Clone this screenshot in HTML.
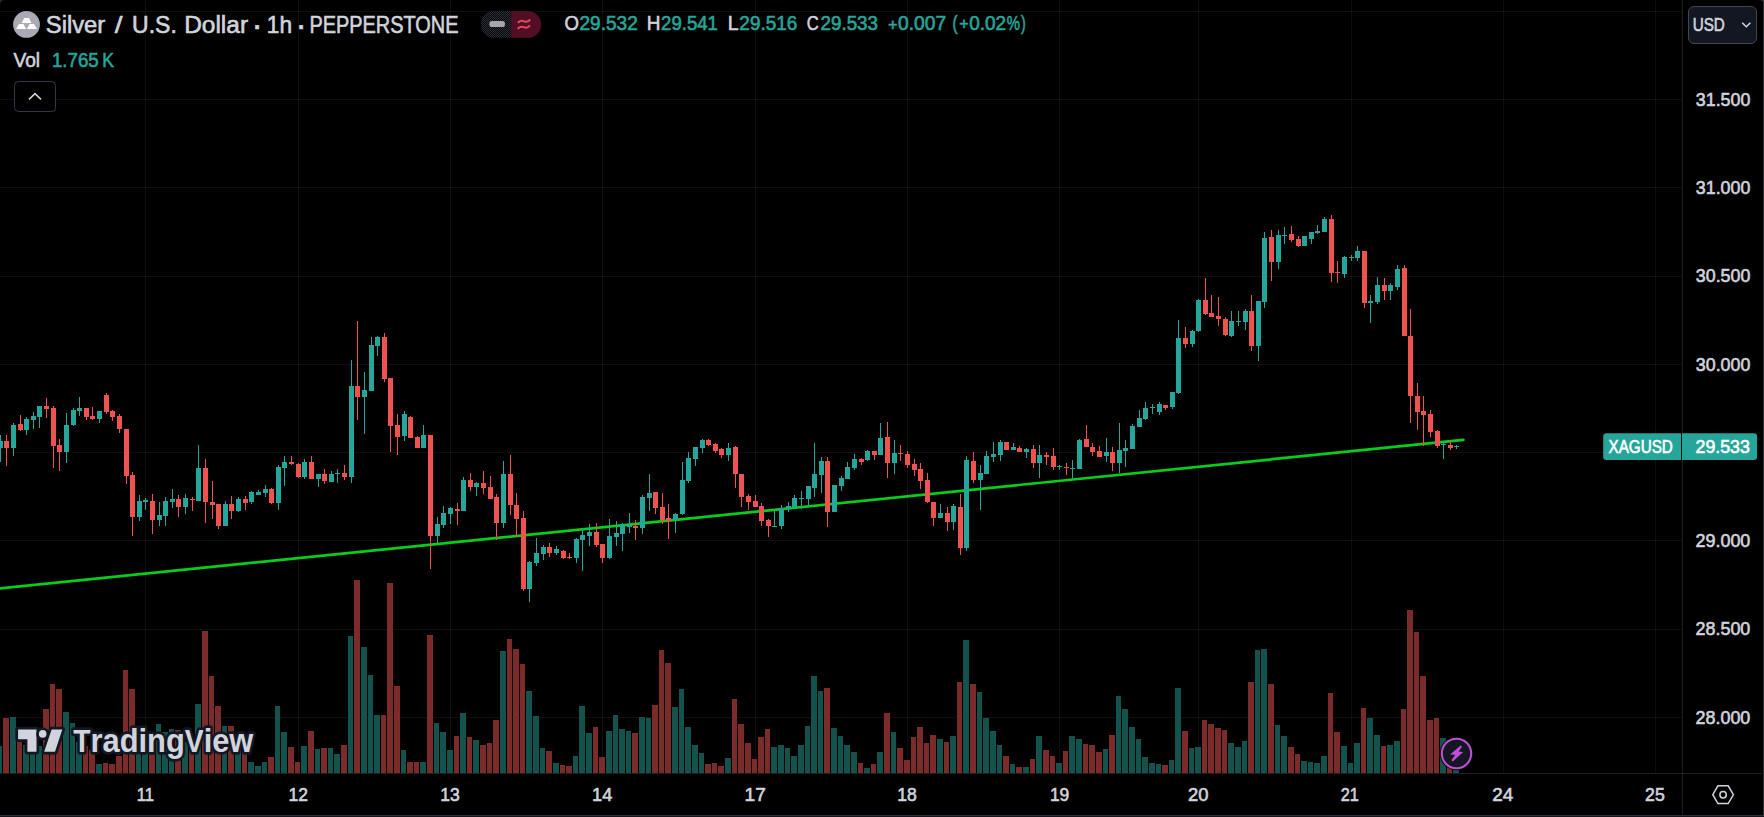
<!DOCTYPE html>
<html><head><meta charset="utf-8"><title>XAGUSD chart</title>
<style>html,body{margin:0;padding:0;background:#000;}body{width:1764px;height:817px;overflow:hidden;position:relative;font-family:"Liberation Sans", Arial, sans-serif;}svg text{font-family:"Liberation Sans", Arial, sans-serif;}</style>
</head><body>
<svg width="1764" height="817" viewBox="0 0 1764 817" style="position:absolute;left:0;top:0;display:block">
<rect width="1764" height="817" fill="#000"/>
<g shape-rendering="crispEdges" fill="#f0f3fa" fill-opacity="0.06">
<rect x="145" y="0" width="1" height="773"/>
<rect x="298" y="0" width="1" height="773"/>
<rect x="450" y="0" width="1" height="773"/>
<rect x="602" y="0" width="1" height="773"/>
<rect x="755" y="0" width="1" height="773"/>
<rect x="907" y="0" width="1" height="773"/>
<rect x="1059" y="0" width="1" height="773"/>
<rect x="1198" y="0" width="1" height="773"/>
<rect x="1351" y="0" width="1" height="773"/>
<rect x="1503" y="0" width="1" height="773"/>
<rect x="1655" y="0" width="1" height="773"/>
<rect x="0" y="11" width="1682" height="1"/>
<rect x="0" y="99" width="1682" height="1"/>
<rect x="0" y="187" width="1682" height="1"/>
<rect x="0" y="276" width="1682" height="1"/>
<rect x="0" y="364" width="1682" height="1"/>
<rect x="0" y="452" width="1682" height="1"/>
<rect x="0" y="540" width="1682" height="1"/>
<rect x="0" y="629" width="1682" height="1"/>
<rect x="0" y="717" width="1682" height="1"/>
</g>
<g shape-rendering="crispEdges">
<rect x="-3" y="746" width="5" height="27" fill="#14534d"/>
<rect x="3" y="718" width="6" height="55" fill="#7a2b2a"/>
<rect x="10" y="717" width="6" height="56" fill="#14534d"/>
<rect x="17" y="740" width="5" height="33" fill="#7a2b2a"/>
<rect x="23" y="745" width="6" height="28" fill="#14534d"/>
<rect x="30" y="750" width="5" height="23" fill="#14534d"/>
<rect x="36" y="746" width="6" height="27" fill="#14534d"/>
<rect x="43" y="709" width="6" height="64" fill="#7a2b2a"/>
<rect x="50" y="684" width="5" height="89" fill="#7a2b2a"/>
<rect x="56" y="689" width="6" height="84" fill="#7a2b2a"/>
<rect x="63" y="712" width="6" height="61" fill="#14534d"/>
<rect x="70" y="723" width="5" height="50" fill="#14534d"/>
<rect x="76" y="742" width="6" height="31" fill="#14534d"/>
<rect x="83" y="746" width="5" height="27" fill="#7a2b2a"/>
<rect x="89" y="750" width="6" height="23" fill="#7a2b2a"/>
<rect x="96" y="764" width="6" height="9" fill="#14534d"/>
<rect x="103" y="763" width="5" height="10" fill="#7a2b2a"/>
<rect x="109" y="764" width="6" height="9" fill="#7a2b2a"/>
<rect x="116" y="756" width="6" height="17" fill="#7a2b2a"/>
<rect x="123" y="670" width="5" height="103" fill="#7a2b2a"/>
<rect x="129" y="689" width="6" height="84" fill="#7a2b2a"/>
<rect x="136" y="742" width="5" height="31" fill="#14534d"/>
<rect x="142" y="746" width="6" height="27" fill="#14534d"/>
<rect x="149" y="732" width="6" height="41" fill="#7a2b2a"/>
<rect x="156" y="724" width="5" height="49" fill="#14534d"/>
<rect x="162" y="732" width="6" height="41" fill="#14534d"/>
<rect x="169" y="729" width="5" height="44" fill="#14534d"/>
<rect x="175" y="730" width="6" height="43" fill="#7a2b2a"/>
<rect x="182" y="742" width="6" height="31" fill="#14534d"/>
<rect x="189" y="746" width="5" height="27" fill="#7a2b2a"/>
<rect x="195" y="704" width="6" height="69" fill="#14534d"/>
<rect x="202" y="631" width="6" height="142" fill="#7a2b2a"/>
<rect x="209" y="676" width="5" height="97" fill="#7a2b2a"/>
<rect x="215" y="706" width="6" height="67" fill="#7a2b2a"/>
<rect x="222" y="726" width="5" height="47" fill="#14534d"/>
<rect x="228" y="726" width="6" height="47" fill="#7a2b2a"/>
<rect x="235" y="744" width="6" height="29" fill="#14534d"/>
<rect x="242" y="749" width="5" height="24" fill="#7a2b2a"/>
<rect x="248" y="762" width="6" height="11" fill="#14534d"/>
<rect x="255" y="766" width="6" height="7" fill="#14534d"/>
<rect x="262" y="762" width="5" height="11" fill="#14534d"/>
<rect x="268" y="757" width="6" height="16" fill="#7a2b2a"/>
<rect x="275" y="706" width="5" height="67" fill="#14534d"/>
<rect x="281" y="732" width="6" height="41" fill="#14534d"/>
<rect x="288" y="747" width="6" height="26" fill="#7a2b2a"/>
<rect x="295" y="762" width="5" height="11" fill="#7a2b2a"/>
<rect x="301" y="746" width="6" height="27" fill="#14534d"/>
<rect x="308" y="731" width="6" height="42" fill="#7a2b2a"/>
<rect x="315" y="749" width="5" height="24" fill="#14534d"/>
<rect x="321" y="748" width="6" height="25" fill="#7a2b2a"/>
<rect x="328" y="748" width="5" height="25" fill="#14534d"/>
<rect x="334" y="754" width="6" height="19" fill="#14534d"/>
<rect x="341" y="745" width="6" height="28" fill="#7a2b2a"/>
<rect x="348" y="636" width="5" height="137" fill="#14534d"/>
<rect x="354" y="580" width="6" height="193" fill="#7a2b2a"/>
<rect x="361" y="647" width="6" height="126" fill="#14534d"/>
<rect x="368" y="675" width="5" height="98" fill="#14534d"/>
<rect x="374" y="715" width="6" height="58" fill="#14534d"/>
<rect x="381" y="715" width="5" height="58" fill="#7a2b2a"/>
<rect x="387" y="583" width="6" height="190" fill="#7a2b2a"/>
<rect x="394" y="686" width="6" height="87" fill="#7a2b2a"/>
<rect x="401" y="750" width="5" height="23" fill="#14534d"/>
<rect x="407" y="762" width="6" height="11" fill="#7a2b2a"/>
<rect x="414" y="762" width="5" height="11" fill="#7a2b2a"/>
<rect x="420" y="762" width="6" height="11" fill="#14534d"/>
<rect x="427" y="635" width="6" height="138" fill="#7a2b2a"/>
<rect x="434" y="723" width="5" height="50" fill="#14534d"/>
<rect x="440" y="732" width="6" height="41" fill="#14534d"/>
<rect x="447" y="750" width="6" height="23" fill="#14534d"/>
<rect x="454" y="736" width="5" height="37" fill="#7a2b2a"/>
<rect x="460" y="713" width="6" height="60" fill="#14534d"/>
<rect x="467" y="737" width="5" height="36" fill="#7a2b2a"/>
<rect x="473" y="740" width="6" height="33" fill="#14534d"/>
<rect x="480" y="745" width="6" height="28" fill="#7a2b2a"/>
<rect x="487" y="743" width="5" height="30" fill="#7a2b2a"/>
<rect x="493" y="720" width="6" height="53" fill="#7a2b2a"/>
<rect x="500" y="651" width="6" height="122" fill="#14534d"/>
<rect x="507" y="639" width="5" height="134" fill="#7a2b2a"/>
<rect x="513" y="649" width="6" height="124" fill="#7a2b2a"/>
<rect x="520" y="664" width="5" height="109" fill="#7a2b2a"/>
<rect x="526" y="691" width="6" height="82" fill="#14534d"/>
<rect x="533" y="716" width="6" height="57" fill="#14534d"/>
<rect x="540" y="748" width="5" height="25" fill="#14534d"/>
<rect x="546" y="751" width="6" height="22" fill="#7a2b2a"/>
<rect x="553" y="763" width="6" height="10" fill="#14534d"/>
<rect x="560" y="765" width="5" height="8" fill="#7a2b2a"/>
<rect x="566" y="766" width="6" height="7" fill="#7a2b2a"/>
<rect x="573" y="756" width="5" height="17" fill="#14534d"/>
<rect x="579" y="706" width="6" height="67" fill="#14534d"/>
<rect x="586" y="733" width="6" height="40" fill="#14534d"/>
<rect x="593" y="727" width="5" height="46" fill="#7a2b2a"/>
<rect x="599" y="757" width="6" height="16" fill="#7a2b2a"/>
<rect x="606" y="731" width="6" height="42" fill="#14534d"/>
<rect x="613" y="715" width="5" height="58" fill="#14534d"/>
<rect x="619" y="729" width="6" height="44" fill="#14534d"/>
<rect x="626" y="731" width="5" height="42" fill="#14534d"/>
<rect x="632" y="733" width="6" height="40" fill="#7a2b2a"/>
<rect x="639" y="717" width="6" height="56" fill="#14534d"/>
<rect x="646" y="718" width="5" height="55" fill="#14534d"/>
<rect x="652" y="705" width="6" height="68" fill="#7a2b2a"/>
<rect x="659" y="650" width="5" height="123" fill="#7a2b2a"/>
<rect x="665" y="663" width="6" height="110" fill="#7a2b2a"/>
<rect x="672" y="707" width="6" height="66" fill="#14534d"/>
<rect x="679" y="689" width="5" height="84" fill="#14534d"/>
<rect x="685" y="727" width="6" height="46" fill="#14534d"/>
<rect x="692" y="745" width="6" height="28" fill="#14534d"/>
<rect x="699" y="753" width="5" height="20" fill="#14534d"/>
<rect x="705" y="764" width="6" height="9" fill="#7a2b2a"/>
<rect x="712" y="763" width="5" height="10" fill="#7a2b2a"/>
<rect x="718" y="766" width="6" height="7" fill="#7a2b2a"/>
<rect x="725" y="758" width="6" height="15" fill="#14534d"/>
<rect x="732" y="699" width="5" height="74" fill="#7a2b2a"/>
<rect x="738" y="724" width="6" height="49" fill="#7a2b2a"/>
<rect x="745" y="743" width="6" height="30" fill="#7a2b2a"/>
<rect x="752" y="759" width="5" height="14" fill="#7a2b2a"/>
<rect x="758" y="737" width="6" height="36" fill="#7a2b2a"/>
<rect x="765" y="729" width="5" height="44" fill="#7a2b2a"/>
<rect x="771" y="747" width="6" height="26" fill="#14534d"/>
<rect x="778" y="745" width="6" height="28" fill="#14534d"/>
<rect x="785" y="748" width="5" height="25" fill="#14534d"/>
<rect x="791" y="756" width="6" height="17" fill="#14534d"/>
<rect x="798" y="745" width="6" height="28" fill="#14534d"/>
<rect x="805" y="726" width="5" height="47" fill="#14534d"/>
<rect x="811" y="676" width="6" height="97" fill="#14534d"/>
<rect x="818" y="691" width="5" height="82" fill="#14534d"/>
<rect x="824" y="688" width="6" height="85" fill="#7a2b2a"/>
<rect x="831" y="728" width="6" height="45" fill="#14534d"/>
<rect x="838" y="736" width="5" height="37" fill="#14534d"/>
<rect x="844" y="745" width="6" height="28" fill="#14534d"/>
<rect x="851" y="752" width="6" height="21" fill="#14534d"/>
<rect x="858" y="763" width="5" height="10" fill="#7a2b2a"/>
<rect x="864" y="768" width="6" height="5" fill="#14534d"/>
<rect x="871" y="764" width="5" height="9" fill="#7a2b2a"/>
<rect x="877" y="752" width="6" height="21" fill="#14534d"/>
<rect x="884" y="713" width="6" height="60" fill="#7a2b2a"/>
<rect x="891" y="732" width="5" height="41" fill="#14534d"/>
<rect x="897" y="748" width="6" height="25" fill="#7a2b2a"/>
<rect x="904" y="760" width="6" height="13" fill="#7a2b2a"/>
<rect x="911" y="737" width="5" height="36" fill="#7a2b2a"/>
<rect x="917" y="727" width="6" height="46" fill="#7a2b2a"/>
<rect x="924" y="743" width="5" height="30" fill="#7a2b2a"/>
<rect x="930" y="735" width="6" height="38" fill="#7a2b2a"/>
<rect x="937" y="739" width="6" height="34" fill="#14534d"/>
<rect x="944" y="742" width="5" height="31" fill="#7a2b2a"/>
<rect x="950" y="736" width="6" height="37" fill="#14534d"/>
<rect x="957" y="682" width="5" height="91" fill="#7a2b2a"/>
<rect x="963" y="640" width="6" height="133" fill="#14534d"/>
<rect x="970" y="684" width="6" height="89" fill="#7a2b2a"/>
<rect x="977" y="692" width="5" height="81" fill="#14534d"/>
<rect x="983" y="718" width="6" height="55" fill="#14534d"/>
<rect x="990" y="731" width="6" height="42" fill="#14534d"/>
<rect x="997" y="745" width="5" height="28" fill="#14534d"/>
<rect x="1003" y="756" width="6" height="17" fill="#7a2b2a"/>
<rect x="1010" y="764" width="5" height="9" fill="#14534d"/>
<rect x="1016" y="767" width="6" height="6" fill="#7a2b2a"/>
<rect x="1023" y="767" width="6" height="6" fill="#14534d"/>
<rect x="1030" y="759" width="5" height="14" fill="#7a2b2a"/>
<rect x="1036" y="736" width="6" height="37" fill="#14534d"/>
<rect x="1043" y="750" width="6" height="23" fill="#7a2b2a"/>
<rect x="1050" y="756" width="5" height="17" fill="#7a2b2a"/>
<rect x="1056" y="763" width="6" height="10" fill="#14534d"/>
<rect x="1063" y="751" width="5" height="22" fill="#7a2b2a"/>
<rect x="1069" y="736" width="6" height="37" fill="#14534d"/>
<rect x="1076" y="739" width="6" height="34" fill="#14534d"/>
<rect x="1083" y="744" width="5" height="29" fill="#7a2b2a"/>
<rect x="1089" y="745" width="6" height="28" fill="#7a2b2a"/>
<rect x="1096" y="752" width="6" height="21" fill="#7a2b2a"/>
<rect x="1103" y="749" width="5" height="24" fill="#14534d"/>
<rect x="1109" y="735" width="6" height="38" fill="#7a2b2a"/>
<rect x="1116" y="696" width="5" height="77" fill="#14534d"/>
<rect x="1122" y="709" width="6" height="64" fill="#14534d"/>
<rect x="1129" y="727" width="6" height="46" fill="#14534d"/>
<rect x="1136" y="739" width="5" height="34" fill="#14534d"/>
<rect x="1142" y="757" width="6" height="16" fill="#14534d"/>
<rect x="1149" y="763" width="6" height="10" fill="#14534d"/>
<rect x="1156" y="764" width="5" height="9" fill="#14534d"/>
<rect x="1162" y="765" width="6" height="8" fill="#7a2b2a"/>
<rect x="1169" y="760" width="5" height="13" fill="#14534d"/>
<rect x="1175" y="688" width="6" height="85" fill="#14534d"/>
<rect x="1182" y="731" width="6" height="42" fill="#7a2b2a"/>
<rect x="1189" y="748" width="5" height="25" fill="#14534d"/>
<rect x="1195" y="747" width="6" height="26" fill="#14534d"/>
<rect x="1202" y="720" width="5" height="53" fill="#7a2b2a"/>
<rect x="1208" y="724" width="6" height="49" fill="#7a2b2a"/>
<rect x="1215" y="728" width="6" height="45" fill="#7a2b2a"/>
<rect x="1222" y="730" width="5" height="43" fill="#7a2b2a"/>
<rect x="1228" y="743" width="6" height="30" fill="#14534d"/>
<rect x="1235" y="747" width="6" height="26" fill="#14534d"/>
<rect x="1242" y="741" width="5" height="32" fill="#14534d"/>
<rect x="1248" y="682" width="6" height="91" fill="#7a2b2a"/>
<rect x="1255" y="650" width="5" height="123" fill="#14534d"/>
<rect x="1261" y="649" width="6" height="124" fill="#14534d"/>
<rect x="1268" y="684" width="6" height="89" fill="#7a2b2a"/>
<rect x="1275" y="725" width="5" height="48" fill="#14534d"/>
<rect x="1281" y="736" width="6" height="37" fill="#14534d"/>
<rect x="1288" y="747" width="6" height="26" fill="#7a2b2a"/>
<rect x="1295" y="754" width="5" height="19" fill="#7a2b2a"/>
<rect x="1301" y="761" width="6" height="12" fill="#14534d"/>
<rect x="1308" y="762" width="5" height="11" fill="#14534d"/>
<rect x="1314" y="763" width="6" height="10" fill="#14534d"/>
<rect x="1321" y="756" width="6" height="17" fill="#14534d"/>
<rect x="1328" y="693" width="5" height="80" fill="#7a2b2a"/>
<rect x="1334" y="732" width="6" height="41" fill="#7a2b2a"/>
<rect x="1341" y="746" width="6" height="27" fill="#14534d"/>
<rect x="1348" y="763" width="5" height="10" fill="#14534d"/>
<rect x="1354" y="743" width="6" height="30" fill="#14534d"/>
<rect x="1361" y="708" width="5" height="65" fill="#7a2b2a"/>
<rect x="1367" y="718" width="6" height="55" fill="#14534d"/>
<rect x="1374" y="735" width="6" height="38" fill="#14534d"/>
<rect x="1381" y="746" width="5" height="27" fill="#7a2b2a"/>
<rect x="1387" y="745" width="6" height="28" fill="#14534d"/>
<rect x="1394" y="741" width="6" height="32" fill="#14534d"/>
<rect x="1401" y="709" width="5" height="64" fill="#7a2b2a"/>
<rect x="1407" y="610" width="6" height="163" fill="#7a2b2a"/>
<rect x="1414" y="632" width="5" height="141" fill="#7a2b2a"/>
<rect x="1420" y="676" width="6" height="97" fill="#7a2b2a"/>
<rect x="1427" y="720" width="6" height="53" fill="#7a2b2a"/>
<rect x="1434" y="718" width="5" height="55" fill="#7a2b2a"/>
<rect x="1440" y="738" width="6" height="35" fill="#14534d"/>
<rect x="1447" y="761" width="5" height="12" fill="#7a2b2a"/>
<rect x="1453" y="767" width="6" height="6" fill="#14534d"/>
</g>
<line x1="-5" y1="588.89" x2="1463.4" y2="439.85" stroke="#08cd1c" stroke-width="2.700" stroke-linecap="round"/>
<g shape-rendering="crispEdges">
<rect x="0" y="435" width="1" height="27" fill="#26a69a"/>
<rect x="-2" y="441" width="5" height="7" fill="#26a69a"/>
<rect x="6" y="435" width="1" height="31" fill="#ef5350"/>
<rect x="4" y="441" width="5" height="7" fill="#ef5350"/>
<rect x="13" y="423" width="1" height="33" fill="#26a69a"/>
<rect x="11" y="425" width="5" height="23" fill="#26a69a"/>
<rect x="20" y="415" width="1" height="16" fill="#ef5350"/>
<rect x="18" y="424" width="5" height="6" fill="#ef5350"/>
<rect x="26" y="417" width="1" height="18" fill="#26a69a"/>
<rect x="24" y="419" width="5" height="11" fill="#26a69a"/>
<rect x="33" y="412" width="1" height="17" fill="#26a69a"/>
<rect x="31" y="416" width="5" height="4" fill="#26a69a"/>
<rect x="39" y="406" width="1" height="22" fill="#26a69a"/>
<rect x="37" y="406" width="5" height="11" fill="#26a69a"/>
<rect x="46" y="398" width="1" height="20" fill="#ef5350"/>
<rect x="44" y="406" width="5" height="3" fill="#ef5350"/>
<rect x="53" y="406" width="1" height="62" fill="#ef5350"/>
<rect x="51" y="408" width="5" height="38" fill="#ef5350"/>
<rect x="59" y="439" width="1" height="32" fill="#ef5350"/>
<rect x="57" y="445" width="5" height="7" fill="#ef5350"/>
<rect x="66" y="413" width="1" height="50" fill="#26a69a"/>
<rect x="64" y="425" width="5" height="27" fill="#26a69a"/>
<rect x="73" y="408" width="1" height="18" fill="#26a69a"/>
<rect x="71" y="410" width="5" height="15" fill="#26a69a"/>
<rect x="79" y="397" width="1" height="19" fill="#26a69a"/>
<rect x="77" y="408" width="5" height="3" fill="#26a69a"/>
<rect x="86" y="408" width="1" height="12" fill="#ef5350"/>
<rect x="84" y="408" width="5" height="9" fill="#ef5350"/>
<rect x="92" y="407" width="1" height="13" fill="#ef5350"/>
<rect x="90" y="416" width="5" height="3" fill="#ef5350"/>
<rect x="99" y="411" width="1" height="12" fill="#26a69a"/>
<rect x="97" y="411" width="5" height="8" fill="#26a69a"/>
<rect x="106" y="393" width="1" height="21" fill="#ef5350"/>
<rect x="104" y="395" width="5" height="17" fill="#ef5350"/>
<rect x="112" y="410" width="1" height="11" fill="#ef5350"/>
<rect x="110" y="411" width="5" height="6" fill="#ef5350"/>
<rect x="119" y="414" width="1" height="19" fill="#ef5350"/>
<rect x="117" y="416" width="5" height="13" fill="#ef5350"/>
<rect x="126" y="429" width="1" height="55" fill="#ef5350"/>
<rect x="124" y="429" width="5" height="47" fill="#ef5350"/>
<rect x="132" y="472" width="1" height="64" fill="#ef5350"/>
<rect x="130" y="475" width="5" height="42" fill="#ef5350"/>
<rect x="139" y="495" width="1" height="26" fill="#26a69a"/>
<rect x="137" y="501" width="5" height="16" fill="#26a69a"/>
<rect x="145" y="498" width="1" height="12" fill="#26a69a"/>
<rect x="143" y="500" width="5" height="2" fill="#26a69a"/>
<rect x="152" y="494" width="1" height="40" fill="#ef5350"/>
<rect x="150" y="501" width="5" height="19" fill="#ef5350"/>
<rect x="159" y="502" width="1" height="24" fill="#26a69a"/>
<rect x="157" y="515" width="5" height="5" fill="#26a69a"/>
<rect x="165" y="497" width="1" height="29" fill="#26a69a"/>
<rect x="163" y="501" width="5" height="15" fill="#26a69a"/>
<rect x="172" y="489" width="1" height="19" fill="#26a69a"/>
<rect x="170" y="499" width="5" height="3" fill="#26a69a"/>
<rect x="178" y="495" width="1" height="22" fill="#ef5350"/>
<rect x="176" y="499" width="5" height="8" fill="#ef5350"/>
<rect x="185" y="494" width="1" height="20" fill="#26a69a"/>
<rect x="183" y="498" width="5" height="9" fill="#26a69a"/>
<rect x="192" y="497" width="1" height="14" fill="#ef5350"/>
<rect x="190" y="499" width="5" height="1" fill="#ef5350"/>
<rect x="198" y="445" width="1" height="56" fill="#26a69a"/>
<rect x="196" y="468" width="5" height="33" fill="#26a69a"/>
<rect x="205" y="459" width="1" height="64" fill="#ef5350"/>
<rect x="203" y="468" width="5" height="34" fill="#ef5350"/>
<rect x="212" y="481" width="1" height="38" fill="#ef5350"/>
<rect x="210" y="502" width="5" height="3" fill="#ef5350"/>
<rect x="218" y="504" width="1" height="25" fill="#ef5350"/>
<rect x="216" y="504" width="5" height="22" fill="#ef5350"/>
<rect x="225" y="501" width="1" height="25" fill="#26a69a"/>
<rect x="223" y="504" width="5" height="22" fill="#26a69a"/>
<rect x="231" y="496" width="1" height="23" fill="#ef5350"/>
<rect x="229" y="504" width="5" height="7" fill="#ef5350"/>
<rect x="238" y="497" width="1" height="15" fill="#26a69a"/>
<rect x="236" y="499" width="5" height="12" fill="#26a69a"/>
<rect x="245" y="496" width="1" height="14" fill="#ef5350"/>
<rect x="243" y="499" width="5" height="4" fill="#ef5350"/>
<rect x="251" y="491" width="1" height="13" fill="#26a69a"/>
<rect x="249" y="492" width="5" height="10" fill="#26a69a"/>
<rect x="258" y="490" width="1" height="5" fill="#26a69a"/>
<rect x="256" y="492" width="5" height="3" fill="#26a69a"/>
<rect x="265" y="485" width="1" height="12" fill="#26a69a"/>
<rect x="263" y="489" width="5" height="4" fill="#26a69a"/>
<rect x="271" y="488" width="1" height="16" fill="#ef5350"/>
<rect x="269" y="489" width="5" height="14" fill="#ef5350"/>
<rect x="278" y="465" width="1" height="45" fill="#26a69a"/>
<rect x="276" y="467" width="5" height="36" fill="#26a69a"/>
<rect x="284" y="456" width="1" height="30" fill="#26a69a"/>
<rect x="282" y="462" width="5" height="6" fill="#26a69a"/>
<rect x="291" y="456" width="1" height="9" fill="#ef5350"/>
<rect x="289" y="462" width="5" height="2" fill="#ef5350"/>
<rect x="298" y="463" width="1" height="15" fill="#ef5350"/>
<rect x="296" y="464" width="5" height="13" fill="#ef5350"/>
<rect x="304" y="459" width="1" height="20" fill="#26a69a"/>
<rect x="302" y="462" width="5" height="15" fill="#26a69a"/>
<rect x="311" y="456" width="1" height="23" fill="#ef5350"/>
<rect x="309" y="462" width="5" height="17" fill="#ef5350"/>
<rect x="318" y="474" width="1" height="13" fill="#26a69a"/>
<rect x="316" y="474" width="5" height="5" fill="#26a69a"/>
<rect x="324" y="469" width="1" height="15" fill="#ef5350"/>
<rect x="322" y="474" width="5" height="7" fill="#ef5350"/>
<rect x="331" y="471" width="1" height="11" fill="#26a69a"/>
<rect x="329" y="474" width="5" height="8" fill="#26a69a"/>
<rect x="337" y="469" width="1" height="14" fill="#26a69a"/>
<rect x="335" y="473" width="5" height="1" fill="#26a69a"/>
<rect x="344" y="465" width="1" height="15" fill="#ef5350"/>
<rect x="342" y="473" width="5" height="4" fill="#ef5350"/>
<rect x="351" y="360" width="1" height="123" fill="#26a69a"/>
<rect x="349" y="386" width="5" height="91" fill="#26a69a"/>
<rect x="357" y="321" width="1" height="99" fill="#ef5350"/>
<rect x="355" y="386" width="5" height="11" fill="#ef5350"/>
<rect x="364" y="372" width="1" height="62" fill="#26a69a"/>
<rect x="362" y="390" width="5" height="7" fill="#26a69a"/>
<rect x="371" y="337" width="1" height="54" fill="#26a69a"/>
<rect x="369" y="345" width="5" height="46" fill="#26a69a"/>
<rect x="377" y="336" width="1" height="20" fill="#26a69a"/>
<rect x="375" y="337" width="5" height="9" fill="#26a69a"/>
<rect x="384" y="333" width="1" height="49" fill="#ef5350"/>
<rect x="382" y="337" width="5" height="42" fill="#ef5350"/>
<rect x="390" y="378" width="1" height="74" fill="#ef5350"/>
<rect x="388" y="378" width="5" height="48" fill="#ef5350"/>
<rect x="397" y="414" width="1" height="41" fill="#ef5350"/>
<rect x="395" y="425" width="5" height="12" fill="#ef5350"/>
<rect x="404" y="411" width="1" height="30" fill="#26a69a"/>
<rect x="402" y="414" width="5" height="22" fill="#26a69a"/>
<rect x="410" y="416" width="1" height="22" fill="#ef5350"/>
<rect x="408" y="417" width="5" height="21" fill="#ef5350"/>
<rect x="417" y="436" width="1" height="12" fill="#ef5350"/>
<rect x="415" y="437" width="5" height="11" fill="#ef5350"/>
<rect x="423" y="425" width="1" height="23" fill="#26a69a"/>
<rect x="421" y="435" width="5" height="13" fill="#26a69a"/>
<rect x="430" y="435" width="1" height="134" fill="#ef5350"/>
<rect x="428" y="435" width="5" height="101" fill="#ef5350"/>
<rect x="437" y="517" width="1" height="26" fill="#26a69a"/>
<rect x="435" y="524" width="5" height="12" fill="#26a69a"/>
<rect x="443" y="506" width="1" height="22" fill="#26a69a"/>
<rect x="441" y="513" width="5" height="12" fill="#26a69a"/>
<rect x="450" y="507" width="1" height="17" fill="#26a69a"/>
<rect x="448" y="508" width="5" height="6" fill="#26a69a"/>
<rect x="457" y="503" width="1" height="22" fill="#ef5350"/>
<rect x="455" y="509" width="5" height="2" fill="#ef5350"/>
<rect x="463" y="477" width="1" height="34" fill="#26a69a"/>
<rect x="461" y="480" width="5" height="31" fill="#26a69a"/>
<rect x="470" y="473" width="1" height="18" fill="#ef5350"/>
<rect x="468" y="480" width="5" height="7" fill="#ef5350"/>
<rect x="476" y="482" width="1" height="14" fill="#26a69a"/>
<rect x="474" y="483" width="5" height="4" fill="#26a69a"/>
<rect x="483" y="471" width="1" height="23" fill="#ef5350"/>
<rect x="481" y="483" width="5" height="5" fill="#ef5350"/>
<rect x="490" y="476" width="1" height="23" fill="#ef5350"/>
<rect x="488" y="487" width="5" height="12" fill="#ef5350"/>
<rect x="496" y="494" width="1" height="46" fill="#ef5350"/>
<rect x="494" y="497" width="5" height="26" fill="#ef5350"/>
<rect x="503" y="461" width="1" height="67" fill="#26a69a"/>
<rect x="501" y="474" width="5" height="49" fill="#26a69a"/>
<rect x="510" y="455" width="1" height="60" fill="#ef5350"/>
<rect x="508" y="474" width="5" height="31" fill="#ef5350"/>
<rect x="516" y="493" width="1" height="44" fill="#ef5350"/>
<rect x="514" y="505" width="5" height="14" fill="#ef5350"/>
<rect x="523" y="511" width="1" height="80" fill="#ef5350"/>
<rect x="521" y="518" width="5" height="71" fill="#ef5350"/>
<rect x="529" y="561" width="1" height="41" fill="#26a69a"/>
<rect x="527" y="562" width="5" height="27" fill="#26a69a"/>
<rect x="536" y="538" width="1" height="28" fill="#26a69a"/>
<rect x="534" y="553" width="5" height="10" fill="#26a69a"/>
<rect x="543" y="545" width="1" height="15" fill="#26a69a"/>
<rect x="541" y="547" width="5" height="7" fill="#26a69a"/>
<rect x="549" y="543" width="1" height="14" fill="#ef5350"/>
<rect x="547" y="547" width="5" height="6" fill="#ef5350"/>
<rect x="556" y="546" width="1" height="9" fill="#26a69a"/>
<rect x="554" y="549" width="5" height="4" fill="#26a69a"/>
<rect x="563" y="550" width="1" height="9" fill="#ef5350"/>
<rect x="561" y="551" width="5" height="7" fill="#ef5350"/>
<rect x="569" y="553" width="1" height="6" fill="#ef5350"/>
<rect x="567" y="557" width="5" height="1" fill="#ef5350"/>
<rect x="576" y="538" width="1" height="25" fill="#26a69a"/>
<rect x="574" y="539" width="5" height="19" fill="#26a69a"/>
<rect x="582" y="528" width="1" height="43" fill="#26a69a"/>
<rect x="580" y="535" width="5" height="5" fill="#26a69a"/>
<rect x="589" y="524" width="1" height="22" fill="#26a69a"/>
<rect x="587" y="532" width="5" height="4" fill="#26a69a"/>
<rect x="596" y="523" width="1" height="24" fill="#ef5350"/>
<rect x="594" y="532" width="5" height="13" fill="#ef5350"/>
<rect x="602" y="544" width="1" height="19" fill="#ef5350"/>
<rect x="600" y="544" width="5" height="14" fill="#ef5350"/>
<rect x="609" y="519" width="1" height="40" fill="#26a69a"/>
<rect x="607" y="536" width="5" height="22" fill="#26a69a"/>
<rect x="616" y="521" width="1" height="25" fill="#26a69a"/>
<rect x="614" y="533" width="5" height="4" fill="#26a69a"/>
<rect x="622" y="523" width="1" height="28" fill="#26a69a"/>
<rect x="620" y="525" width="5" height="9" fill="#26a69a"/>
<rect x="629" y="513" width="1" height="20" fill="#26a69a"/>
<rect x="627" y="525" width="5" height="2" fill="#26a69a"/>
<rect x="635" y="520" width="1" height="20" fill="#ef5350"/>
<rect x="633" y="526" width="5" height="2" fill="#ef5350"/>
<rect x="642" y="495" width="1" height="39" fill="#26a69a"/>
<rect x="640" y="497" width="5" height="31" fill="#26a69a"/>
<rect x="649" y="474" width="1" height="37" fill="#26a69a"/>
<rect x="647" y="493" width="5" height="5" fill="#26a69a"/>
<rect x="655" y="492" width="1" height="22" fill="#ef5350"/>
<rect x="653" y="492" width="5" height="16" fill="#ef5350"/>
<rect x="662" y="493" width="1" height="31" fill="#ef5350"/>
<rect x="660" y="507" width="5" height="13" fill="#ef5350"/>
<rect x="668" y="504" width="1" height="35" fill="#ef5350"/>
<rect x="666" y="518" width="5" height="3" fill="#ef5350"/>
<rect x="675" y="513" width="1" height="20" fill="#26a69a"/>
<rect x="673" y="514" width="5" height="6" fill="#26a69a"/>
<rect x="682" y="462" width="1" height="53" fill="#26a69a"/>
<rect x="680" y="480" width="5" height="34" fill="#26a69a"/>
<rect x="688" y="452" width="1" height="31" fill="#26a69a"/>
<rect x="686" y="458" width="5" height="23" fill="#26a69a"/>
<rect x="695" y="447" width="1" height="19" fill="#26a69a"/>
<rect x="693" y="447" width="5" height="12" fill="#26a69a"/>
<rect x="702" y="439" width="1" height="14" fill="#26a69a"/>
<rect x="700" y="440" width="5" height="8" fill="#26a69a"/>
<rect x="708" y="439" width="1" height="7" fill="#ef5350"/>
<rect x="706" y="440" width="5" height="5" fill="#ef5350"/>
<rect x="715" y="443" width="1" height="10" fill="#ef5350"/>
<rect x="713" y="444" width="5" height="7" fill="#ef5350"/>
<rect x="721" y="448" width="1" height="10" fill="#ef5350"/>
<rect x="719" y="449" width="5" height="6" fill="#ef5350"/>
<rect x="728" y="443" width="1" height="18" fill="#26a69a"/>
<rect x="726" y="448" width="5" height="7" fill="#26a69a"/>
<rect x="735" y="446" width="1" height="42" fill="#ef5350"/>
<rect x="733" y="447" width="5" height="27" fill="#ef5350"/>
<rect x="741" y="474" width="1" height="33" fill="#ef5350"/>
<rect x="739" y="474" width="5" height="23" fill="#ef5350"/>
<rect x="748" y="494" width="1" height="16" fill="#ef5350"/>
<rect x="746" y="496" width="5" height="6" fill="#ef5350"/>
<rect x="755" y="495" width="1" height="12" fill="#ef5350"/>
<rect x="753" y="501" width="5" height="6" fill="#ef5350"/>
<rect x="761" y="503" width="1" height="23" fill="#ef5350"/>
<rect x="759" y="506" width="5" height="15" fill="#ef5350"/>
<rect x="768" y="519" width="1" height="18" fill="#ef5350"/>
<rect x="766" y="520" width="5" height="6" fill="#ef5350"/>
<rect x="774" y="510" width="1" height="17" fill="#26a69a"/>
<rect x="772" y="526" width="5" height="1" fill="#26a69a"/>
<rect x="781" y="505" width="1" height="24" fill="#26a69a"/>
<rect x="779" y="508" width="5" height="18" fill="#26a69a"/>
<rect x="788" y="502" width="1" height="10" fill="#26a69a"/>
<rect x="786" y="506" width="5" height="3" fill="#26a69a"/>
<rect x="794" y="495" width="1" height="13" fill="#26a69a"/>
<rect x="792" y="498" width="5" height="9" fill="#26a69a"/>
<rect x="801" y="491" width="1" height="18" fill="#26a69a"/>
<rect x="799" y="498" width="5" height="1" fill="#26a69a"/>
<rect x="808" y="486" width="1" height="19" fill="#26a69a"/>
<rect x="806" y="486" width="5" height="13" fill="#26a69a"/>
<rect x="814" y="443" width="1" height="54" fill="#26a69a"/>
<rect x="812" y="474" width="5" height="14" fill="#26a69a"/>
<rect x="821" y="457" width="1" height="36" fill="#26a69a"/>
<rect x="819" y="461" width="5" height="14" fill="#26a69a"/>
<rect x="827" y="457" width="1" height="70" fill="#ef5350"/>
<rect x="825" y="461" width="5" height="51" fill="#ef5350"/>
<rect x="834" y="485" width="1" height="27" fill="#26a69a"/>
<rect x="832" y="485" width="5" height="27" fill="#26a69a"/>
<rect x="841" y="476" width="1" height="15" fill="#26a69a"/>
<rect x="839" y="478" width="5" height="8" fill="#26a69a"/>
<rect x="847" y="462" width="1" height="17" fill="#26a69a"/>
<rect x="845" y="467" width="5" height="12" fill="#26a69a"/>
<rect x="854" y="454" width="1" height="16" fill="#26a69a"/>
<rect x="852" y="459" width="5" height="9" fill="#26a69a"/>
<rect x="861" y="458" width="1" height="7" fill="#ef5350"/>
<rect x="859" y="459" width="5" height="3" fill="#ef5350"/>
<rect x="867" y="450" width="1" height="11" fill="#26a69a"/>
<rect x="865" y="451" width="5" height="9" fill="#26a69a"/>
<rect x="874" y="451" width="1" height="9" fill="#ef5350"/>
<rect x="872" y="451" width="5" height="4" fill="#ef5350"/>
<rect x="880" y="423" width="1" height="32" fill="#26a69a"/>
<rect x="878" y="438" width="5" height="17" fill="#26a69a"/>
<rect x="887" y="422" width="1" height="56" fill="#ef5350"/>
<rect x="885" y="437" width="5" height="26" fill="#ef5350"/>
<rect x="894" y="440" width="1" height="34" fill="#26a69a"/>
<rect x="892" y="453" width="5" height="10" fill="#26a69a"/>
<rect x="900" y="445" width="1" height="16" fill="#ef5350"/>
<rect x="898" y="453" width="5" height="1" fill="#ef5350"/>
<rect x="907" y="451" width="1" height="17" fill="#ef5350"/>
<rect x="905" y="454" width="5" height="11" fill="#ef5350"/>
<rect x="914" y="459" width="1" height="17" fill="#ef5350"/>
<rect x="912" y="464" width="5" height="6" fill="#ef5350"/>
<rect x="920" y="463" width="1" height="26" fill="#ef5350"/>
<rect x="918" y="469" width="5" height="12" fill="#ef5350"/>
<rect x="927" y="473" width="1" height="30" fill="#ef5350"/>
<rect x="925" y="480" width="5" height="22" fill="#ef5350"/>
<rect x="933" y="502" width="1" height="24" fill="#ef5350"/>
<rect x="931" y="502" width="5" height="16" fill="#ef5350"/>
<rect x="940" y="504" width="1" height="14" fill="#26a69a"/>
<rect x="938" y="513" width="5" height="5" fill="#26a69a"/>
<rect x="947" y="507" width="1" height="24" fill="#ef5350"/>
<rect x="945" y="513" width="5" height="9" fill="#ef5350"/>
<rect x="953" y="504" width="1" height="26" fill="#26a69a"/>
<rect x="951" y="506" width="5" height="16" fill="#26a69a"/>
<rect x="960" y="494" width="1" height="61" fill="#ef5350"/>
<rect x="958" y="507" width="5" height="41" fill="#ef5350"/>
<rect x="966" y="456" width="1" height="95" fill="#26a69a"/>
<rect x="964" y="460" width="5" height="88" fill="#26a69a"/>
<rect x="973" y="452" width="1" height="31" fill="#ef5350"/>
<rect x="971" y="461" width="5" height="19" fill="#ef5350"/>
<rect x="980" y="465" width="1" height="45" fill="#26a69a"/>
<rect x="978" y="473" width="5" height="7" fill="#26a69a"/>
<rect x="986" y="451" width="1" height="23" fill="#26a69a"/>
<rect x="984" y="456" width="5" height="18" fill="#26a69a"/>
<rect x="993" y="442" width="1" height="20" fill="#26a69a"/>
<rect x="991" y="454" width="5" height="3" fill="#26a69a"/>
<rect x="1000" y="440" width="1" height="21" fill="#26a69a"/>
<rect x="998" y="442" width="5" height="13" fill="#26a69a"/>
<rect x="1006" y="442" width="1" height="8" fill="#ef5350"/>
<rect x="1004" y="442" width="5" height="8" fill="#ef5350"/>
<rect x="1013" y="443" width="1" height="7" fill="#26a69a"/>
<rect x="1011" y="447" width="5" height="3" fill="#26a69a"/>
<rect x="1019" y="446" width="1" height="6" fill="#ef5350"/>
<rect x="1017" y="448" width="5" height="4" fill="#ef5350"/>
<rect x="1026" y="448" width="1" height="10" fill="#26a69a"/>
<rect x="1024" y="449" width="5" height="3" fill="#26a69a"/>
<rect x="1033" y="445" width="1" height="23" fill="#ef5350"/>
<rect x="1031" y="449" width="5" height="14" fill="#ef5350"/>
<rect x="1039" y="445" width="1" height="33" fill="#26a69a"/>
<rect x="1037" y="455" width="5" height="8" fill="#26a69a"/>
<rect x="1046" y="452" width="1" height="13" fill="#ef5350"/>
<rect x="1044" y="455" width="5" height="2" fill="#ef5350"/>
<rect x="1053" y="448" width="1" height="22" fill="#ef5350"/>
<rect x="1051" y="456" width="5" height="11" fill="#ef5350"/>
<rect x="1059" y="465" width="1" height="5" fill="#26a69a"/>
<rect x="1057" y="466" width="5" height="1" fill="#26a69a"/>
<rect x="1066" y="463" width="1" height="12" fill="#ef5350"/>
<rect x="1064" y="467" width="5" height="1" fill="#ef5350"/>
<rect x="1072" y="460" width="1" height="20" fill="#26a69a"/>
<rect x="1070" y="468" width="5" height="1" fill="#26a69a"/>
<rect x="1079" y="439" width="1" height="30" fill="#26a69a"/>
<rect x="1077" y="440" width="5" height="29" fill="#26a69a"/>
<rect x="1086" y="425" width="1" height="22" fill="#ef5350"/>
<rect x="1084" y="439" width="5" height="8" fill="#ef5350"/>
<rect x="1092" y="443" width="1" height="13" fill="#ef5350"/>
<rect x="1090" y="447" width="5" height="5" fill="#ef5350"/>
<rect x="1099" y="446" width="1" height="11" fill="#ef5350"/>
<rect x="1097" y="451" width="5" height="6" fill="#ef5350"/>
<rect x="1106" y="438" width="1" height="24" fill="#26a69a"/>
<rect x="1104" y="452" width="5" height="4" fill="#26a69a"/>
<rect x="1112" y="447" width="1" height="24" fill="#ef5350"/>
<rect x="1110" y="452" width="5" height="11" fill="#ef5350"/>
<rect x="1119" y="423" width="1" height="50" fill="#26a69a"/>
<rect x="1117" y="450" width="5" height="13" fill="#26a69a"/>
<rect x="1125" y="440" width="1" height="27" fill="#26a69a"/>
<rect x="1123" y="448" width="5" height="3" fill="#26a69a"/>
<rect x="1132" y="424" width="1" height="25" fill="#26a69a"/>
<rect x="1130" y="426" width="5" height="23" fill="#26a69a"/>
<rect x="1139" y="410" width="1" height="17" fill="#26a69a"/>
<rect x="1137" y="418" width="5" height="9" fill="#26a69a"/>
<rect x="1145" y="402" width="1" height="18" fill="#26a69a"/>
<rect x="1143" y="408" width="5" height="11" fill="#26a69a"/>
<rect x="1152" y="404" width="1" height="10" fill="#26a69a"/>
<rect x="1150" y="407" width="5" height="1" fill="#26a69a"/>
<rect x="1159" y="402" width="1" height="13" fill="#26a69a"/>
<rect x="1157" y="404" width="5" height="8" fill="#26a69a"/>
<rect x="1165" y="405" width="1" height="5" fill="#ef5350"/>
<rect x="1163" y="405" width="5" height="3" fill="#ef5350"/>
<rect x="1172" y="392" width="1" height="17" fill="#26a69a"/>
<rect x="1170" y="392" width="5" height="15" fill="#26a69a"/>
<rect x="1178" y="320" width="1" height="74" fill="#26a69a"/>
<rect x="1176" y="338" width="5" height="55" fill="#26a69a"/>
<rect x="1185" y="327" width="1" height="21" fill="#ef5350"/>
<rect x="1183" y="338" width="5" height="6" fill="#ef5350"/>
<rect x="1192" y="330" width="1" height="17" fill="#26a69a"/>
<rect x="1190" y="331" width="5" height="13" fill="#26a69a"/>
<rect x="1198" y="299" width="1" height="33" fill="#26a69a"/>
<rect x="1196" y="300" width="5" height="31" fill="#26a69a"/>
<rect x="1205" y="278" width="1" height="37" fill="#ef5350"/>
<rect x="1203" y="300" width="5" height="14" fill="#ef5350"/>
<rect x="1211" y="295" width="1" height="22" fill="#ef5350"/>
<rect x="1209" y="313" width="5" height="4" fill="#ef5350"/>
<rect x="1218" y="297" width="1" height="29" fill="#ef5350"/>
<rect x="1216" y="316" width="5" height="3" fill="#ef5350"/>
<rect x="1225" y="317" width="1" height="19" fill="#ef5350"/>
<rect x="1223" y="319" width="5" height="16" fill="#ef5350"/>
<rect x="1231" y="311" width="1" height="26" fill="#26a69a"/>
<rect x="1229" y="321" width="5" height="15" fill="#26a69a"/>
<rect x="1238" y="311" width="1" height="15" fill="#26a69a"/>
<rect x="1236" y="321" width="5" height="1" fill="#26a69a"/>
<rect x="1245" y="309" width="1" height="21" fill="#26a69a"/>
<rect x="1243" y="311" width="5" height="11" fill="#26a69a"/>
<rect x="1251" y="295" width="1" height="56" fill="#ef5350"/>
<rect x="1249" y="311" width="5" height="35" fill="#ef5350"/>
<rect x="1258" y="301" width="1" height="60" fill="#26a69a"/>
<rect x="1256" y="301" width="5" height="45" fill="#26a69a"/>
<rect x="1264" y="232" width="1" height="76" fill="#26a69a"/>
<rect x="1262" y="238" width="5" height="64" fill="#26a69a"/>
<rect x="1271" y="230" width="1" height="51" fill="#ef5350"/>
<rect x="1269" y="237" width="5" height="25" fill="#ef5350"/>
<rect x="1278" y="230" width="1" height="39" fill="#26a69a"/>
<rect x="1276" y="235" width="5" height="27" fill="#26a69a"/>
<rect x="1284" y="227" width="1" height="17" fill="#26a69a"/>
<rect x="1282" y="235" width="5" height="1" fill="#26a69a"/>
<rect x="1291" y="226" width="1" height="16" fill="#ef5350"/>
<rect x="1289" y="234" width="5" height="6" fill="#ef5350"/>
<rect x="1298" y="236" width="1" height="11" fill="#ef5350"/>
<rect x="1296" y="239" width="5" height="7" fill="#ef5350"/>
<rect x="1304" y="236" width="1" height="10" fill="#26a69a"/>
<rect x="1302" y="236" width="5" height="10" fill="#26a69a"/>
<rect x="1311" y="232" width="1" height="12" fill="#26a69a"/>
<rect x="1309" y="232" width="5" height="7" fill="#26a69a"/>
<rect x="1317" y="225" width="1" height="9" fill="#26a69a"/>
<rect x="1315" y="231" width="5" height="2" fill="#26a69a"/>
<rect x="1324" y="217" width="1" height="15" fill="#26a69a"/>
<rect x="1322" y="219" width="5" height="13" fill="#26a69a"/>
<rect x="1331" y="215" width="1" height="67" fill="#ef5350"/>
<rect x="1329" y="219" width="5" height="54" fill="#ef5350"/>
<rect x="1337" y="261" width="1" height="22" fill="#ef5350"/>
<rect x="1335" y="272" width="5" height="1" fill="#ef5350"/>
<rect x="1344" y="256" width="1" height="22" fill="#26a69a"/>
<rect x="1342" y="257" width="5" height="17" fill="#26a69a"/>
<rect x="1351" y="255" width="1" height="6" fill="#26a69a"/>
<rect x="1349" y="257" width="5" height="1" fill="#26a69a"/>
<rect x="1357" y="246" width="1" height="15" fill="#26a69a"/>
<rect x="1355" y="251" width="5" height="7" fill="#26a69a"/>
<rect x="1364" y="251" width="1" height="57" fill="#ef5350"/>
<rect x="1362" y="251" width="5" height="52" fill="#ef5350"/>
<rect x="1370" y="295" width="1" height="28" fill="#26a69a"/>
<rect x="1368" y="301" width="5" height="2" fill="#26a69a"/>
<rect x="1377" y="277" width="1" height="27" fill="#26a69a"/>
<rect x="1375" y="285" width="5" height="17" fill="#26a69a"/>
<rect x="1384" y="278" width="1" height="22" fill="#ef5350"/>
<rect x="1382" y="285" width="5" height="6" fill="#ef5350"/>
<rect x="1390" y="283" width="1" height="17" fill="#26a69a"/>
<rect x="1388" y="285" width="5" height="6" fill="#26a69a"/>
<rect x="1397" y="265" width="1" height="25" fill="#26a69a"/>
<rect x="1395" y="269" width="5" height="18" fill="#26a69a"/>
<rect x="1404" y="265" width="1" height="71" fill="#ef5350"/>
<rect x="1402" y="268" width="5" height="68" fill="#ef5350"/>
<rect x="1410" y="309" width="1" height="114" fill="#ef5350"/>
<rect x="1408" y="336" width="5" height="60" fill="#ef5350"/>
<rect x="1417" y="383" width="1" height="47" fill="#ef5350"/>
<rect x="1415" y="396" width="5" height="16" fill="#ef5350"/>
<rect x="1423" y="396" width="1" height="50" fill="#ef5350"/>
<rect x="1421" y="411" width="5" height="4" fill="#ef5350"/>
<rect x="1430" y="410" width="1" height="27" fill="#ef5350"/>
<rect x="1428" y="414" width="5" height="18" fill="#ef5350"/>
<rect x="1437" y="430" width="1" height="18" fill="#ef5350"/>
<rect x="1435" y="431" width="5" height="15" fill="#ef5350"/>
<rect x="1443" y="441" width="1" height="18" fill="#26a69a"/>
<rect x="1441" y="444" width="5" height="1" fill="#26a69a"/>
<rect x="1450" y="440" width="1" height="10" fill="#ef5350"/>
<rect x="1448" y="445" width="5" height="3" fill="#ef5350"/>
<rect x="1456" y="445" width="1" height="4" fill="#26a69a"/>
<rect x="1454" y="446" width="5" height="1" fill="#26a69a"/>
</g>
<g shape-rendering="crispEdges" fill="#f0f3fa" fill-opacity="0.12">
<rect x="1682" y="0" width="1" height="815"/>
<rect x="0" y="773" width="1764" height="1"/>
</g>
<rect x="0" y="815" width="1764" height="1" fill="#2a2e39" shape-rendering="crispEdges"/>
<rect x="0" y="816" width="1764" height="1" fill="#131722" shape-rendering="crispEdges"/>
<rect x="1763" y="0" width="1" height="816" fill="#2a2e39" shape-rendering="crispEdges"/>
<path d="M0 0H4.500A4.500 4.500 0 0 0 0 4.500Z" fill="#2a2e39"/>
<path d="M1764 0V5A5 5 0 0 0 1759 0Z" fill="#2a2e39"/>
<circle cx="26.5" cy="24.4" r="13.4" fill="#aaaab4"/>
<g fill="#fff"><path d="M24.3 17.9H29.1L31.3 23H21.7Z"/><path d="M19 24.1H23.4L26.1 28.9H16.100Z"/><path d="M29.600 24.1H34L36.900 28.900H26.900Z"/></g>
<defs><pattern id="dth" width="2" height="2" patternUnits="userSpaceOnUse"><rect width="2" height="2" fill="#06070a"/><rect width="1" height="1" fill="#2c2e38"/><rect x="1" y="1" width="1" height="1" fill="#2c2e38"/></pattern></defs>
<path d="M494.2 11H511.1V37.8H494.2A13.4 13.4 0 0 1 494.2 11Z" fill="url(#dth)"/>
<path d="M511.1 11H527.8A13.4 13.4 0 0 1 527.8 37.8H511.1Z" fill="#520e26"/>
<rect x="489.400" y="21" width="15.500" height="6" rx="2.600" fill="#a5a7af"/>
<g fill="none" stroke="#e14b55" stroke-width="2" stroke-linecap="round"><path d="M518.500 22.300c2.200-2.400 3.800-1.800 5.600-1s3.600 1 5.600-1.300"/><path d="M518.300 28.200c2.200-2.400 3.800-1.800 5.600-1s3.600 1 5.600-1.300"/></g>
<rect x="14.500" y="81.500" width="41" height="30" rx="4" fill="#000" stroke="#343843" stroke-width="1"/>
<path d="M29 99.400l6-5.800 6 5.800" fill="none" stroke="#d1d4dc" stroke-width="1.500"/>
<rect x="1688.500" y="6.500" width="68" height="37" rx="5.500" fill="#131722" stroke="#434651" stroke-width="1"/>
<path d="M1742.200 22.700l4.100 4 4.100-4" fill="none" stroke="#d1d4dc" stroke-width="1.600"/>
<path d="M1606.500 433.200H1681V460H1606.500A3.300 3.300 0 0 1 1603.200 456.700V436.500A3.300 3.300 0 0 1 1606.500 433.200Z" fill="#26a69a"/>
<path d="M1682 433.200H1753.800A3.300 3.300 0 0 1 1757.100 436.500V456.700A3.300 3.300 0 0 1 1753.800 460H1682Z" fill="#26a69a"/>
<polygon points="1733.4,794.7 1728.2,803.6 1717.9,803.6 1712.8,794.7 1717.9,785.8 1728.2,785.8" fill="none" stroke="#d1d4dc" stroke-width="1.500"/>
<circle cx="1723.1" cy="794.7" r="3.200" fill="none" stroke="#d1d4dc" stroke-width="1.500"/>
<circle cx="1456.500" cy="753.500" r="16.700" fill="#07080c"/>
<circle cx="1456.500" cy="753.500" r="14.700" fill="#131722" stroke="#bf4fd4" stroke-width="2.100"/>
<path d="M1460.600 745.600L1462 746.700L1458.500 751.600L1463.200 751.900L1452.800 761.400L1451.400 760.300L1455.200 754.800L1450.100 754.400Z" fill="#bf4fd4"/>
<g stroke="#131722" stroke-width="5.500" stroke-linejoin="round" paint-order="stroke" fill="#d1d4dc">
<path d="M18.100 729.400H36.500V751.800H27.400V739.300H18.100Z"/>
<circle cx="42.700" cy="733.900" r="3.800"/>
<path d="M51.600 729.400H62.300L55 751.800H44.200Z"/>
</g>
<text transform="translate(45.75,32.70) scale(0.9961,1)" font-size="23.91" fill="#d1d4dc" font-weight="normal" stroke="#d1d4dc" stroke-width="0.6">Silver</text>
<text transform="translate(114.70,32.70) scale(1.1649,1)" font-size="23.91" fill="#d1d4dc" font-weight="normal" stroke="#d1d4dc" stroke-width="0.6">/</text>
<text transform="translate(132.09,32.70) scale(0.9618,1)" font-size="23.91" fill="#d1d4dc" font-weight="normal" stroke="#d1d4dc" stroke-width="0.6">U.S.</text>
<text transform="translate(184.14,32.70) scale(1.0244,1)" font-size="23.91" fill="#d1d4dc" font-weight="normal" stroke="#d1d4dc" stroke-width="0.6">Dollar</text>
<text transform="translate(251.60,35.75) scale(1.0000,1)" font-size="33.64" fill="#d1d4dc" font-weight="normal" stroke="#d1d4dc" stroke-width="0.6">·</text>
<text transform="translate(266.81,32.70) scale(0.9499,1)" font-size="23.91" fill="#d1d4dc" font-weight="normal" stroke="#d1d4dc" stroke-width="0.6">1h</text>
<text transform="translate(295.60,35.75) scale(1.0000,1)" font-size="33.64" fill="#d1d4dc" font-weight="normal" stroke="#d1d4dc" stroke-width="0.6">·</text>
<text transform="translate(309.40,32.70) scale(0.8339,1)" font-size="23.91" fill="#d1d4dc" font-weight="normal" stroke="#d1d4dc" stroke-width="0.6">PEPPERSTONE</text>
<text transform="translate(564.46,30.40) scale(0.9412,1)" font-size="19.71" fill="#d1d4dc" font-weight="normal" stroke="#d1d4dc" stroke-width="0.6">O</text>
<text transform="translate(579.45,30.40) scale(0.9676,1)" font-size="19.71" fill="#26a69a" font-weight="normal" stroke="#26a69a" stroke-width="0.6">29.532</text>
<text transform="translate(646.68,30.40) scale(0.9613,1)" font-size="19.71" fill="#d1d4dc" font-weight="normal" stroke="#d1d4dc" stroke-width="0.6">H</text>
<text transform="translate(661.07,30.40) scale(0.9437,1)" font-size="19.71" fill="#26a69a" font-weight="normal" stroke="#26a69a" stroke-width="0.6">29.541</text>
<text transform="translate(727.84,30.40) scale(0.9922,1)" font-size="19.71" fill="#d1d4dc" font-weight="normal" stroke="#d1d4dc" stroke-width="0.6">L</text>
<text transform="translate(739.35,30.40) scale(0.9627,1)" font-size="19.71" fill="#26a69a" font-weight="normal" stroke="#26a69a" stroke-width="0.6">29.516</text>
<text transform="translate(806.67,30.40) scale(0.8403,1)" font-size="19.71" fill="#d1d4dc" font-weight="normal" stroke="#d1d4dc" stroke-width="0.6">C</text>
<text transform="translate(820.56,30.40) scale(0.9524,1)" font-size="19.71" fill="#26a69a" font-weight="normal" stroke="#26a69a" stroke-width="0.6">29.533</text>
<text transform="translate(887.94,29.58) scale(1.0000,1)" font-size="16.40" fill="#26a69a" font-weight="normal" stroke="#26a69a" stroke-width="0.6">+</text>
<text transform="translate(898.12,30.40) scale(0.9744,1)" font-size="19.71" fill="#26a69a" font-weight="normal" stroke="#26a69a" stroke-width="0.6">0.007</text>
<text transform="translate(952.59,30.40) scale(0.7704,1)" font-size="19.71" fill="#26a69a" font-weight="normal" stroke="#26a69a" stroke-width="0.6">(</text>
<text transform="translate(959.26,29.44) scale(1.0000,1)" font-size="16.00" fill="#26a69a" font-weight="normal" stroke="#26a69a" stroke-width="0.6">+</text>
<text transform="translate(969.23,30.40) scale(0.9604,1)" font-size="19.71" fill="#26a69a" font-weight="normal" stroke="#26a69a" stroke-width="0.6">0.02</text>
<text transform="translate(1006.76,30.40) scale(0.7519,1)" font-size="19.71" fill="#26a69a" font-weight="normal" stroke="#26a69a" stroke-width="0.6">%</text>
<text transform="translate(1020.90,30.40) scale(0.7248,1)" font-size="19.71" fill="#26a69a" font-weight="normal" stroke="#26a69a" stroke-width="0.6">)</text>
<text transform="translate(13.50,66.80) scale(0.9704,1)" font-size="19.71" fill="#d1d4dc" font-weight="normal" stroke="#d1d4dc" stroke-width="0.6">Vol</text>
<text transform="translate(51.89,66.80) scale(0.9506,1)" font-size="19.71" fill="#26a69a" font-weight="normal" stroke="#26a69a" stroke-width="0.6">1.765</text>
<text transform="translate(102.19,66.80) scale(0.8922,1)" font-size="19.71" fill="#26a69a" font-weight="normal" stroke="#26a69a" stroke-width="0.6">K</text>
<text transform="translate(1695.87,105.95) scale(0.9992,1)" font-size="17.83" fill="#d1d4dc" font-weight="normal" stroke="#d1d4dc" stroke-width="0.6">31.500</text>
<text transform="translate(1695.87,194.20) scale(0.9992,1)" font-size="17.83" fill="#d1d4dc" font-weight="normal" stroke="#d1d4dc" stroke-width="0.6">31.000</text>
<text transform="translate(1695.87,282.45) scale(0.9992,1)" font-size="17.83" fill="#d1d4dc" font-weight="normal" stroke="#d1d4dc" stroke-width="0.6">30.500</text>
<text transform="translate(1695.87,370.70) scale(0.9992,1)" font-size="17.83" fill="#d1d4dc" font-weight="normal" stroke="#d1d4dc" stroke-width="0.6">30.000</text>
<text transform="translate(1695.50,547.20) scale(1.0059,1)" font-size="17.83" fill="#d1d4dc" font-weight="normal" stroke="#d1d4dc" stroke-width="0.6">29.000</text>
<text transform="translate(1695.50,635.45) scale(1.0059,1)" font-size="17.83" fill="#d1d4dc" font-weight="normal" stroke="#d1d4dc" stroke-width="0.6">28.500</text>
<text transform="translate(1695.50,723.80) scale(1.0059,1)" font-size="17.83" fill="#d1d4dc" font-weight="normal" stroke="#d1d4dc" stroke-width="0.6">28.000</text>
<text transform="translate(1608.50,452.80) scale(0.8411,1)" font-size="18.12" fill="#fff" font-weight="normal" stroke="#fff" stroke-width="0.6">XAGUSD</text>
<text transform="translate(1695.51,452.80) scale(0.9805,1)" font-size="18.12" fill="#fff" font-weight="normal" stroke="#fff" stroke-width="0.6">29.533</text>
<text transform="translate(1692.63,30.80) scale(0.8224,1)" font-size="18.55" fill="#d1d4dc" font-weight="normal" stroke="#d1d4dc" stroke-width="0.6">USD</text>
<text transform="translate(136.64,801.00) scale(0.9016,1)" font-size="18.41" fill="#d1d4dc" font-weight="normal" stroke="#d1d4dc" stroke-width="0.6">11</text>
<text transform="translate(288.48,801.00) scale(0.9490,1)" font-size="18.41" fill="#d1d4dc" font-weight="normal" stroke="#d1d4dc" stroke-width="0.6">12</text>
<text transform="translate(440.27,801.00) scale(0.9558,1)" font-size="18.41" fill="#d1d4dc" font-weight="normal" stroke="#d1d4dc" stroke-width="0.6">13</text>
<text transform="translate(592.03,801.00) scale(0.9891,1)" font-size="18.41" fill="#d1d4dc" font-weight="normal" stroke="#d1d4dc" stroke-width="0.6">14</text>
<text transform="translate(744.56,801.00) scale(1.0417,1)" font-size="18.41" fill="#d1d4dc" font-weight="normal" stroke="#d1d4dc" stroke-width="0.6">17</text>
<text transform="translate(897.17,801.00) scale(0.9558,1)" font-size="18.41" fill="#d1d4dc" font-weight="normal" stroke="#d1d4dc" stroke-width="0.6">18</text>
<text transform="translate(1049.88,801.00) scale(0.9490,1)" font-size="18.41" fill="#d1d4dc" font-weight="normal" stroke="#d1d4dc" stroke-width="0.6">19</text>
<text transform="translate(1187.98,801.00) scale(1.0007,1)" font-size="18.41" fill="#d1d4dc" font-weight="normal" stroke="#d1d4dc" stroke-width="0.6">20</text>
<text transform="translate(1340.68,801.00) scale(0.8876,1)" font-size="18.41" fill="#d1d4dc" font-weight="normal" stroke="#d1d4dc" stroke-width="0.6">21</text>
<text transform="translate(1492.35,801.00) scale(1.0277,1)" font-size="18.41" fill="#d1d4dc" font-weight="normal" stroke="#d1d4dc" stroke-width="0.6">24</text>
<text transform="translate(1645.12,801.00) scale(0.9583,1)" font-size="18.41" fill="#d1d4dc" font-weight="normal" stroke="#d1d4dc" stroke-width="0.6">25</text>
<text transform="translate(73.2,751.8) scale(0.907,1)" font-weight="bold" fill="#d1d4dc" stroke="#131722" stroke-width="5.500" stroke-linejoin="round" paint-order="stroke"><tspan font-size="31.300">T</tspan><tspan font-size="34">rading</tspan><tspan font-size="31.300">V</tspan><tspan font-size="34">iew</tspan></text>
</svg>
</body></html>
